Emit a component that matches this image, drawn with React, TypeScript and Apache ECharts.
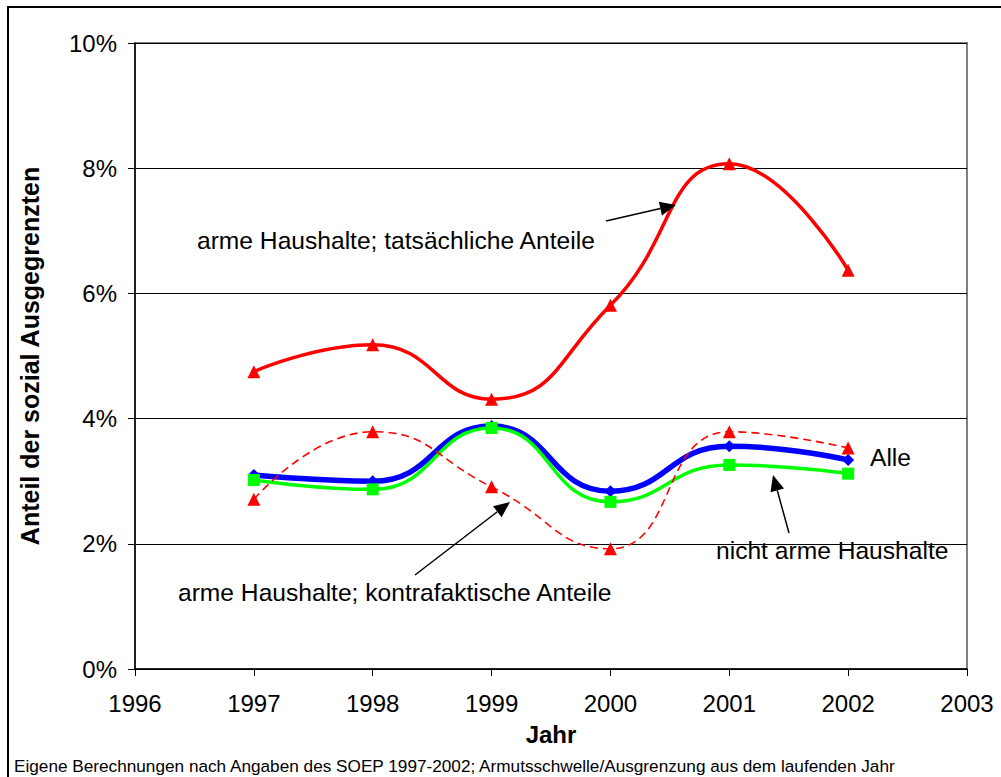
import React, { useEffect, useRef } from "react";
import * as echarts from "echarts";

const years = [1997, 1998, 1999, 2000, 2001, 2002];
const armTatsaechlich = [4.75, 5.18, 4.31, 5.81, 8.07, 6.37];
const armKontrafaktisch = [2.71, 3.79, 2.91, 1.92, 3.79, 3.53];
const alle = [3.1, 3.0, 3.88, 2.84, 3.56, 3.34];
const nichtArm = [3.02, 2.87, 3.85, 2.67, 3.26, 3.12];

const xMin = 1996;
const xMax = 2003;
const yMin = 0;
const yMax = 10;
const yStep = 2;

const FONT = '"Liberation Sans", Arial, sans-serif';

function pairs(vals: number[]) {
  return years.map((y, i) => [y, vals[i]]);
}

function arrow(x1: number, y1: number, x2: number, y2: number) {
  const len = 16;
  const hw = 7;
  const dx = x2 - x1;
  const dy = y2 - y1;
  const d = Math.sqrt(dx * dx + dy * dy);
  const ux = dx / d;
  const uy = dy / d;
  const bx = x2 - ux * len;
  const by = y2 - uy * len;
  const px = -uy;
  const py = ux;
  return [
    {
      type: "line",
      shape: { x1, y1, x2: bx, y2: by },
      style: { stroke: "#000", lineWidth: 1.5 },
      z: 100,
    },
    {
      type: "polygon",
      shape: {
        points: [
          [x2, y2],
          [bx + px * hw, by + py * hw],
          [bx - px * hw, by - py * hw],
        ],
      },
      style: { fill: "#000" },
      z: 100,
    },
  ];
}

function label(text: string, x: number, y: number) {
  return {
    type: "text",
    z: 100,
    style: {
      text,
      x,
      y,
      fill: "#000",
      font: `24.6px ${FONT}`,
      align: "left",
      verticalAlign: "middle",
    },
  };
}

export default function App() {
  const ref = useRef<HTMLDivElement>(null);

  useEffect(() => {
    if (!ref.current) return;
    const chart = echarts.init(ref.current, null, { renderer: "svg" });
    chart.setOption({
      animation: false,
      backgroundColor: "#fff",
      textStyle: { fontFamily: FONT },
      grid: {
        left: 135,
        right: 34,
        top: 43,
        bottom: 108,
        containLabel: false,
        outerBoundsMode: "none",
        show: true,
        borderColor: "#808080",
        borderWidth: 2,
        backgroundColor: "transparent",
      },
      xAxis: {
        type: "value",
        min: xMin,
        max: xMax,
        interval: 1,
        name: "Jahr",
        nameLocation: "middle",
        nameGap: 53,
        nameTextStyle: { fontSize: 24, fontWeight: "bold", color: "#000", fontFamily: FONT },
        axisLine: { show: true, onZero: false, lineStyle: { color: "#000", width: 1.5 } },
        axisTick: { show: true, inside: false, length: 7, lineStyle: { color: "#000" } },
        axisLabel: {
          fontSize: 24,
          color: "#000",
          margin: 22,
          fontFamily: FONT,
          formatter: (v: number) => String(v),
        },
        splitLine: { show: false },
      },
      yAxis: {
        type: "value",
        min: yMin,
        max: yMax,
        interval: yStep,
        name: "Anteil der sozial Ausgegrenzten",
        nameLocation: "middle",
        nameGap: 93,
        nameTextStyle: { fontSize: 25, fontWeight: "bold", color: "#000", fontFamily: FONT },
        axisLine: { show: true, lineStyle: { color: "#000", width: 1.5 } },
        axisTick: { show: true, inside: false, length: 7, lineStyle: { color: "#000" } },
        axisLabel: {
          fontSize: 24,
          color: "#000",
          margin: 18,
          fontFamily: FONT,
          formatter: (v: number) => `${v}%`,
        },
        splitLine: { show: true, lineStyle: { color: "#000", width: 1 } },
      },
      series: [
        {
          name: "Alle",
          type: "line",
          data: pairs(alle),
          smooth: 0.5,
          symbol: "diamond",
          symbolSize: 12,
          lineStyle: { color: "#0000ff", width: 5.5 },
          itemStyle: { color: "#0000ff" },
          z: 2,
        },
        {
          name: "nicht arme Haushalte",
          type: "line",
          data: pairs(nichtArm),
          smooth: 0.5,
          symbol: "rect",
          symbolSize: 12,
          lineStyle: { color: "#00ff00", width: 3.5 },
          itemStyle: { color: "#00ff00" },
          z: 3,
        },
        {
          name: "arme Haushalte; kontrafaktische Anteile",
          type: "line",
          data: pairs(armKontrafaktisch),
          smooth: 0.5,
          symbol: "triangle",
          symbolSize: 13,
          lineStyle: { color: "#ff0000", width: 1.6, type: [8, 5] },
          itemStyle: { color: "#ff0000" },
          z: 4,
        },
        {
          name: "arme Haushalte; tatsächliche Anteile",
          type: "line",
          data: pairs(armTatsaechlich),
          smooth: 0.5,
          symbol: "triangle",
          symbolSize: 13,
          lineStyle: { color: "#ff0000", width: 3.5 },
          itemStyle: { color: "#ff0000" },
          z: 5,
        },
      ],
      graphic: [
        {
          type: "rect",
          shape: { x: 8, y: 7, width: 1200, height: 900 },
          style: { fill: "none", stroke: "#000", lineWidth: 2 },
          silent: true,
          z: 0,
        },
        label("arme Haushalte; tatsächliche Anteile", 197, 240),
        ...arrow(606, 221, 676, 205),
        label("Alle", 870, 457),
        label("nicht arme Haushalte", 716, 550),
        ...arrow(789, 533, 773, 475),
        label("arme Haushalte; kontrafaktische Anteile", 178, 592),
        ...arrow(415, 575, 510, 502),
        {
          type: "text",
          z: 100,
          style: {
            text:
              "Eigene Berechnungen nach Angaben des SOEP 1997-2002; Armutsschwelle/Ausgrenzung aus dem laufenden Jahr",
            x: 14,
            y: 766,
            fill: "#000",
            font: `17.2px ${FONT}`,
            align: "left",
            verticalAlign: "middle",
          },
        },
      ],
    });
    return () => chart.dispose();
  }, []);

  return (
    <div
      ref={ref}
      style={{ position: "fixed", left: 0, top: 0, width: 1001, height: 777 }}
    />
  );
}
